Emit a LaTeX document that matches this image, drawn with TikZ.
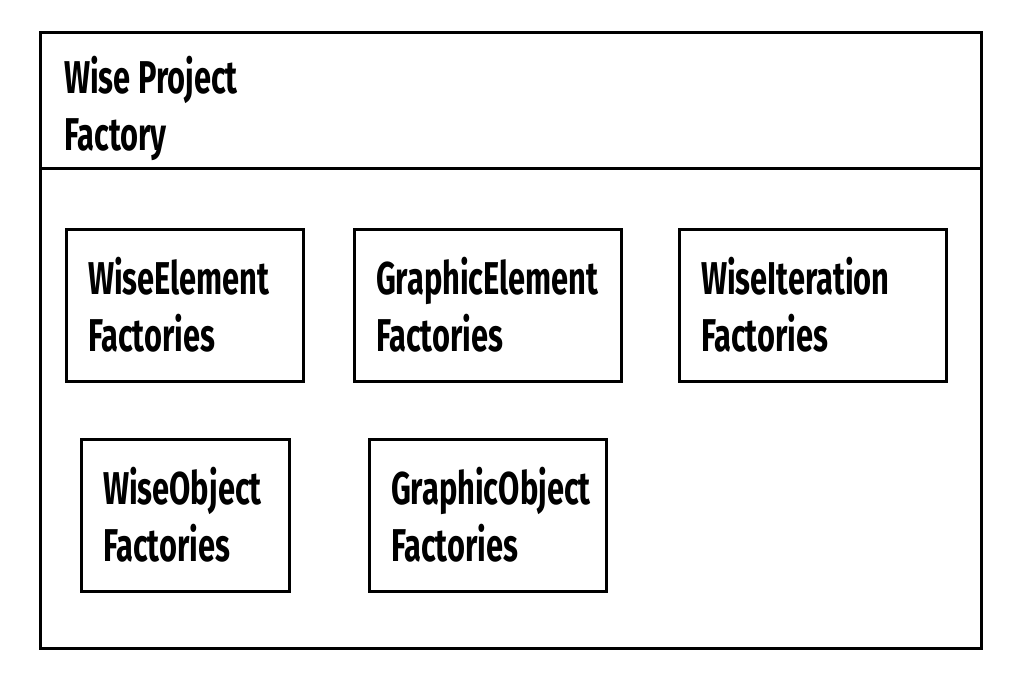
\documentclass[tikz,border=0pt]{standalone}
\usepackage{fontspec}
\setmainfont[FakeStretch=0.67]{Fira Sans}
\usetikzlibrary{positioning}

\begin{document}
\begin{tikzpicture}[x=1pt,y=-1pt,
    frame/.style={rectangle,draw,line width=3pt,minimum width=941pt,inner sep=0pt},
    box/.style={rectangle,draw,line width=3pt,align=left,inner xsep=22pt,inner ysep=0pt,
        minimum height=152pt,font=\bfseries\fontsize{46}{57}\selectfont}]

    % page
    \fill[white] (0,0) rectangle (1021,680);
    \useasboundingbox (0,0) rectangle (1021,680);

    % outer package
    \node[frame,minimum height=136pt] (header) at (510.5,100) {};
    \node[frame,minimum height=480pt] (body) at (510.5,408) {};
    \node[anchor=west,align=left,inner sep=0pt,font=\bfseries\fontsize{46}{57}\selectfont] (title) at (64,108) {Wise Project\\Factory};

    % first row
    \node[box,text width=193pt] (wiseelem) at (184.5,305) {WiseElement\\Factories};
    \node[box,text width=223pt] (graphelem) at (487.5,305) {GraphicElement\\Factories};
    \node[box,text width=223pt] (wiseiter) at (812.5,305) {WiseIteration\\Factories};

    % second row
    \node[box,text width=164pt] (wiseobj) at (185,515) {WiseObject\\Factories};
    \node[box,text width=193pt] (graphobj) at (487.5,515) {GraphicObject\\Factories};
\end{tikzpicture}
\end{document}
